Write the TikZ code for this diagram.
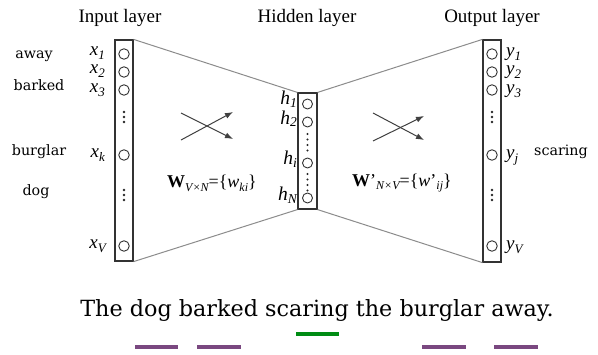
\documentclass[tikz,border=0pt]{standalone}
\usepackage{fontspec}
\setmainfont{Liberation Serif}
\newfontfamily\slab{DejaVu Serif}
\usetikzlibrary{arrows.meta}
\definecolor{barpurple}{RGB}{122,72,128}
\definecolor{bargreen}{RGB}{0,140,20}
\newcommand\lo[2][13]{\raisebox{-0.45ex}{\fontsize{#1}{#1}\selectfont\itshape #2}}
\newcommand\hlo[1]{\raisebox{-0.3ex}{\fontsize{13.5}{13.5}\selectfont\itshape #1}}
\tikzset{
  layerbox/.style={draw=black!80, line width=1.2pt, minimum width=18pt, inner sep=0pt},
  neuron/.style={circle, draw=black!80, line width=0.9pt, minimum size=10.5pt, inner sep=0pt},
  hneuron/.style={neuron, minimum size=10pt},
  vdot/.style={circle, fill=black!85, minimum size=2.6pt, inner sep=0pt},
  funnel/.style={draw=black!45, line width=1pt},
  title/.style={font=\fontsize{19}{20}\selectfont, inner sep=0pt},
  var/.style={font=\fontsize{19}{20}\selectfont\itshape, inner sep=0pt, text height=10pt, text depth=3pt},
  hvar/.style={font=\fontsize{19.5}{21}\selectfont\itshape, inner sep=0pt, text height=10pt, text depth=3pt},
  word/.style={font=\slab\fontsize{14.3}{16}\selectfont, inner sep=0pt},
  crossarrow/.style={draw=black!75, line width=1pt, -{Latex[length=8pt,width=6pt]}},
  wlabel/.style={font=\fontsize{18}{19}\selectfont, inner sep=0pt},
  pbar/.style={draw=barpurple, line width=4.5pt},
  gbar/.style={draw=bargreen, line width=4.5pt}
}
\begin{document}
\begin{tikzpicture}[x=1pt,y=-1pt]
\useasboundingbox (0,0) rectangle (598,354);
\fill[white] (0,0) rectangle (598,354);
% titles
\node[title] (tin) at (120,18) {Input layer};
\node[title] (thid) at (307,18) {Hidden layer};
\node[title] (tout) at (492,18) {Output layer};
% boxes
\node[layerbox, minimum height=221pt] (inbox) at (124,150.5) {};
\node[layerbox, minimum width=19pt, minimum height=116pt] (hidbox) at (307.5,151) {};
\node[layerbox, minimum height=222pt] (outbox) at (492,151) {};
% funnel lines
\draw[funnel] (inbox.north east) -- (hidbox.north west);
\draw[funnel] (inbox.south east) -- (hidbox.south west);
\draw[funnel] (hidbox.north east) -- (outbox.north west);
\draw[funnel] (hidbox.south east) -- (outbox.south west);
% input neurons
\foreach \n/\y in {i1/54, i2/72, i3/90, ik/155, iv/246} {
  \node[neuron] (\n) at (124,\y) {};
}
\foreach \y in {112,117,122,190,195,200} { \node[vdot] at (124,\y) {}; }
\node[var, anchor=east] (lx1) at (105,52) {x\lo{1}};
\node[var, anchor=east] (lx2) at (105,70) {x\lo{2}};
\node[var, anchor=east] (lx3) at (105,89) {x\lo{3}};
\node[var, anchor=east] (lxk) at (105,154) {x\lo{k}};
\node[var, anchor=east] (lxv) at (106,245) {x\lo{V}};
% output neurons
\foreach \n/\y in {o1/54, o2/72, o3/90, oj/155, ov/246} {
  \node[neuron] (\n) at (492,\y) {};
}
\foreach \y in {112,117,122,190,195,200} { \node[vdot] at (492,\y) {}; }
\node[var, anchor=west] (ly1) at (506,53) {y\lo{1}};
\node[var, anchor=west] (ly2) at (506,71) {y\lo{2}};
\node[var, anchor=west] (ly3) at (506,90) {y\lo{3}};
\node[var, anchor=west] (lyj) at (506,155) {y\lo{j}};
\node[var, anchor=west] (lyv) at (506,246) {y\lo{V}};
% hidden neurons
\foreach \n/\y in {h1/104, h2/122, hi/163, hn/198} {
  \node[hneuron] (\n) at (307.5,\y) {};
}
\foreach \y in {134,139.5,145,150.5,174,179.5,185,190.5} { \node[vdot, minimum size=2.4pt] at (307.5,\y) {}; }
\node[hvar, anchor=east] (lh1) at (297,101) {h\hlo{1}};
\node[hvar, anchor=east] (lh2) at (297,120.5) {h\hlo{2}};
\node[hvar, anchor=east] (lhi) at (297,161) {h\hlo{i}};
\node[hvar, anchor=east] (lhn) at (297,197) {h\hlo{N}};
% crossing arrows
\coordinate (a1s) at (181,113); \coordinate (a1e) at (233,139);
\coordinate (a2s) at (181,140); \coordinate (a2e) at (233,112);
\draw[crossarrow] (a1s) -- (a1e);
\draw[crossarrow] (a2s) -- (a2e);
\coordinate (b1s) at (373,113); \coordinate (b1e) at (424,140);
\coordinate (b2s) at (373,141); \coordinate (b2e) at (424,116);
\draw[crossarrow] (b1s) -- (b1e);
\draw[crossarrow] (b2s) -- (b2e);
% weight labels
\node[wlabel] (wl) at (212,183) {\textbf{W}\lo[12]{V×N}=\{\textit{w}\lo[12]{ki}\}};
\node[wlabel] (wr) at (402,183) {\textbf{W}'\lo[12]{N×V}=\{\textit{w}'\lo[12]{ij}\}};
% words
\node[word] (waway) at (34,56) {away};
\node[word] (wbarked) at (39,85) {barked};
\node[word] (wburglar) at (39,152) {burglar};
\node[word] (wdog) at (36,192) {dog};
\node[word] (wscaring) at (561,152) {scaring};
% sentence
\node[font=\slab\fontsize{22.3}{24}\selectfont, inner sep=0pt, anchor=base] (sent) at (317,316) {The dog barked scaring the burglar away.};
% bars
\coordinate (g1) at (296,334); \coordinate (g2) at (339,334);
\draw[gbar] (g1) -- (g2);
\coordinate (p1a) at (135,347); \coordinate (p1b) at (178,347);
\coordinate (p2a) at (197,347); \coordinate (p2b) at (241,347);
\coordinate (p3a) at (422,347); \coordinate (p3b) at (466,347);
\coordinate (p4a) at (494,347); \coordinate (p4b) at (538,347);
\draw[pbar] (p1a) -- (p1b);
\draw[pbar] (p2a) -- (p2b);
\draw[pbar] (p3a) -- (p3b);
\draw[pbar] (p4a) -- (p4b);
\end{tikzpicture}
\end{document}
